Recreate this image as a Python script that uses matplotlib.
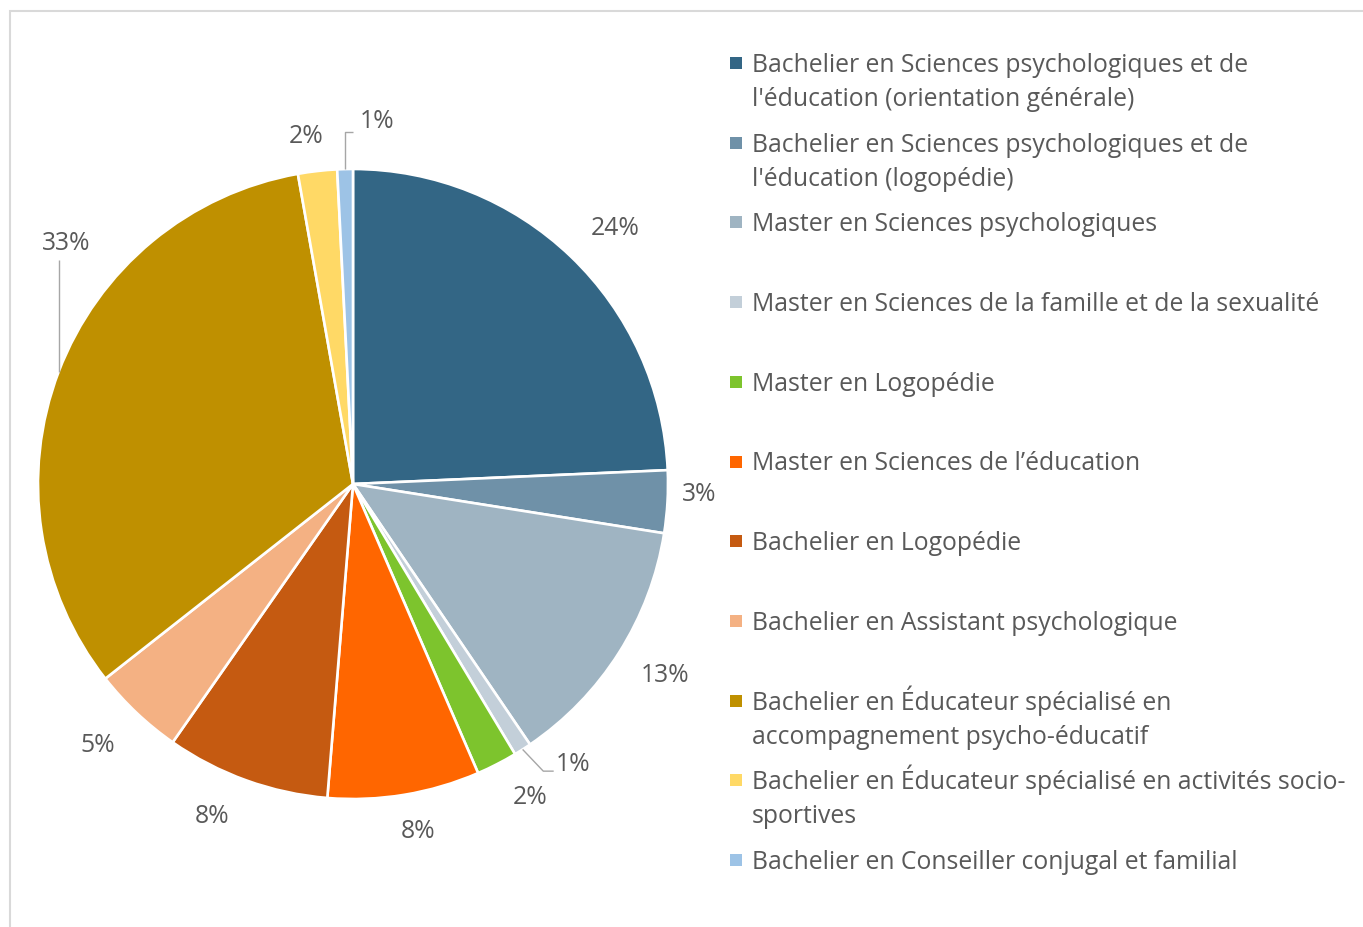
import numpy as np
import matplotlib.pyplot as plt
from matplotlib.patches import Rectangle

plt.rcParams['font.family'] = ['Open Sans', 'DejaVu Sans']

categories = [
    "Bachelier en Sciences psychologiques et de\nl'éducation (orientation générale)",
    "Bachelier en Sciences psychologiques et de\nl'éducation (logopédie)",
    "Master en Sciences psychologiques",
    "Master en Sciences de la famille et de la sexualité",
    "Master en Logopédie",
    "Master en Sciences de l’éducation",
    "Bachelier en Logopédie",
    "Bachelier en Assistant psychologique",
    "Bachelier en Éducateur spécialisé en\naccompagnement psycho-éducatif",
    "Bachelier en Éducateur spécialisé en activités socio-\nsportives",
    "Bachelier en Conseiller conjugal et familial",
]
shares = [24.3, 3.2, 13.0, 0.9, 2.1, 7.8, 8.4, 4.7, 32.8, 2.0, 0.8]
colors = ['#336685', '#6f91a8', '#9fb4c2', '#c3cfd9', '#7dc42d', '#ff6600',
          '#c55a11', '#f4b183', '#bf9000', '#ffd966', '#9dc3e6']

# label placement (radius in pie radii, angle in degrees)
label_r = [1.163, 1.099, 1.161, 1.133, 1.144, 1.121, 1.145, 1.158, 1.188, 1.112, 1.152]
label_deg = [44.3, -1.8, -31.5, -51.9, -60.6, -79.4, -113.0, -134.3, 140.1, 97.7, 86.2]

W, H = 1363, 927
fig = plt.figure(figsize=(W / 100, H / 100), dpi=100)

# pie axes: centre (353, 484) px, radius 315 px
cx, cy, R = 353, 484, 315
ax = fig.add_axes([(cx - R) / W, (H - cy - R) / H, 2 * R / W, 2 * R / H])
wedges, _ = ax.pie(shares, colors=colors, startangle=90, counterclock=False,
                   radius=1.0, wedgeprops=dict(edgecolor='white', linewidth=1.9))
ax.set_xlim(-1, 1)
ax.set_ylim(-1, 1)
ax.set_aspect('equal')

txt_col = '#595959'
line_col = '#a6a6a6'
fs = 17.8

total = sum(shares)
for i, (w, v) in enumerate(zip(wedges, shares)):
    a = np.deg2rad(label_deg[i])
    lx, ly = label_r[i] * np.cos(a), label_r[i] * np.sin(a)
    ax.text(lx, ly, f"{round(100 * v / total):.0f}%", ha='center', va='center',
            fontsize=fs, color=txt_col, clip_on=False)
    mid = np.deg2rad((w.theta1 + w.theta2) / 2)
    ex, ey = np.cos(mid), np.sin(mid)
    if i == 3:
        xs = [ex, lx - 0.095, lx - 0.062]
        ys = [ey, ly - 0.02, ly - 0.02]
    elif i == 10:
        xs = [ex, ex, lx - 0.075]
        ys = [ey, ly - 0.032, ly - 0.032]
    elif i == 8:
        xs = [ex, ex]
        ys = [ey, ly - 0.05]
    else:
        continue
    ax.plot(xs, ys, color=line_col, lw=1.0, clip_on=False, solid_capstyle='butt')

# legend, drawn entry by entry so markers align with the first line
x_mark, x_txt = 736, 752
y0, step, lh = 63, 79.7, 34
for i, (lab, c) in enumerate(zip(categories, colors)):
    yc = y0 + step * i
    fig.patches.append(Rectangle(((x_mark - 6) / W, (H - yc - 6) / H), 12 / W, 12 / H,
                                 transform=fig.transFigure, facecolor=c, edgecolor='none'))
    for j, line in enumerate(lab.split('\n')):
        fig.text(x_txt / W, (H - (yc + lh * j) - 9) / H, line, ha='left', va='baseline',
                 fontsize=fs, color=txt_col)

# chart area border (top and left visible)
fig.patches.append(Rectangle((9.5 / W, -0.1), 2.0, (H - 10.5) / H + 0.1,
                             transform=fig.transFigure, facecolor='none',
                             edgecolor='#d9d9d9', linewidth=1.5))

fig.savefig('out.png', dpi=100)
